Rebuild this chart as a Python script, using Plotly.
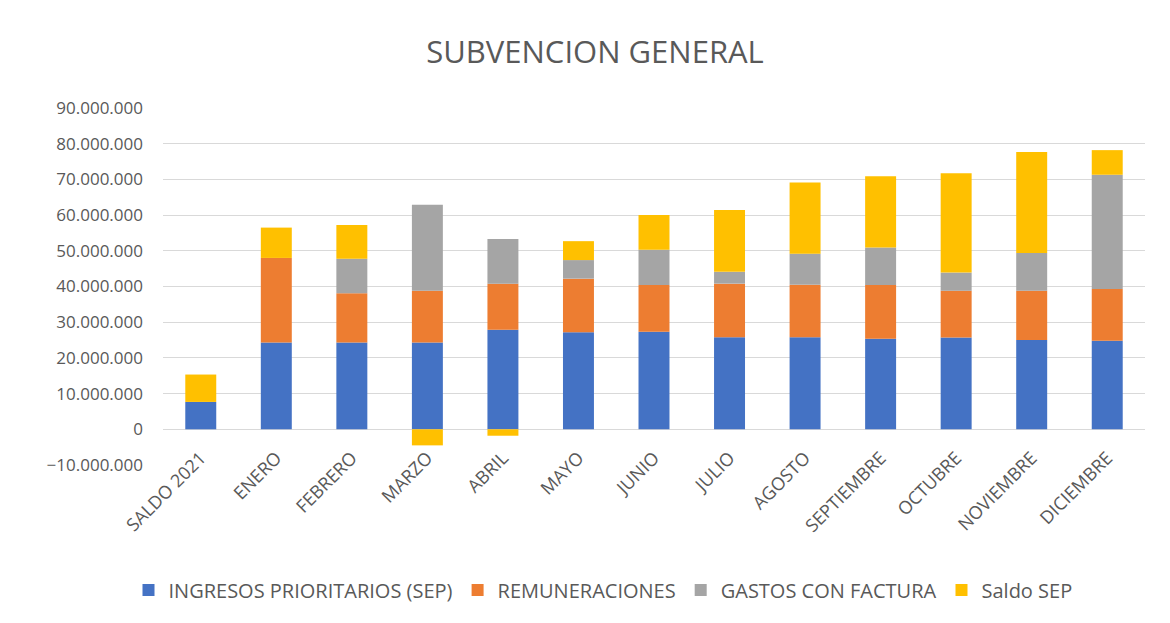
import plotly.graph_objects as go

categories = ["SALDO 2021", "ENERO", "FEBRERO", "MARZO", "ABRIL", "MAYO", "JUNIO",
              "JULIO", "AGOSTO", "SEPTIEMBRE", "OCTUBRE", "NOVIEMBRE", "DICIEMBRE"]
ingresos = [7670000, 24300000, 24300000, 24300000, 27900000, 27200000, 27300000,
            25800000, 25800000, 25350000, 25700000, 25000000, 24800000]
remuneraciones = [0, 23700000, 13800000, 14500000, 12900000, 15000000, 13100000,
                  15000000, 14700000, 15050000, 13100000, 13800000, 14500000]
gastos = [0, 0, 9700000, 24100000, 12500000, 5200000, 9900000,
          3300000, 8700000, 10500000, 5100000, 10600000, 32000000]
saldo_sep = [7670000, 8500000, 9450000, -4500000, -1800000, 5300000, 9700000,
             17300000, 19900000, 20000000, 27800000, 28300000, 6900000]
tick_vals = [-10000000, 0, 10000000, 20000000, 30000000, 40000000, 50000000,
             60000000, 70000000, 80000000, 90000000]

series = [
    ("INGRESOS PRIORITARIOS (SEP)", ingresos, "#4472C4"),
    ("REMUNERACIONES", remuneraciones, "#ED7D31"),
    ("GASTOS CON FACTURA", gastos, "#A5A5A5"),
    ("Saldo SEP", saldo_sep, "#FFC000"),
]

fig = go.Figure()
for name, vals, color in series:
    fig.add_trace(go.Bar(
        name=name, x=categories, y=vals,
        marker=dict(color=color, line=dict(width=0)),
        hovertemplate="%{x}: %{y:,d}<extra>" + name + "</extra>",
    ))

# page has an 8px body margin: work in page pixels, convert to figure pixels
OFF = 8
W, H = 1170 - OFF, 623 - OFF
L, R, T, B = 163 - OFF, 25, 108 - OFF, 158
pw = W - L - R
ph = H - T - B


def px_x(p):
    return (p - OFF - L) / pw


def px_y(p):
    return (H - B - (p - OFF)) / ph


font_fam = "Open Sans, sans-serif"
fig.update_layout(
    width=W, height=H,
    barmode="relative",
    bargap=0.59,
    separators=",.",
    plot_bgcolor="white",
    paper_bgcolor="white",
    margin=dict(l=L, r=R, t=T, b=B),
    font=dict(family=font_fam, color="#595959", size=18),
    title=dict(text="SUBVENCION GENERAL", x=(595 - OFF) / W, xanchor="center",
               y=1 - (52 - OFF) / H, yanchor="middle",
               font=dict(size=31, color="#595959", family=font_fam)),
    legend=dict(orientation="h", x=px_x(603), xanchor="center",
                y=px_y(590), yanchor="middle",
                font=dict(size=20, color="#595959"),
                traceorder="normal", itemwidth=30),
    xaxis=dict(tickangle=-45, tickfont=dict(size=18, color="#595959"),
               showgrid=False, showline=False, ticks="",
               anchor="free", position=px_y(443)),
    yaxis=dict(range=[-10000000, 90000000], tickvals=tick_vals,
               tickformat=",d", tickfont=dict(size=17, color="#595959"),
               showgrid=True, gridcolor="#D9D9D9", gridwidth=1,
               zeroline=True, zerolinecolor="#D9D9D9", zerolinewidth=1,
               showline=False, ticks="", ticklabelstandoff=19),
)

fig.write_html("out.html")
